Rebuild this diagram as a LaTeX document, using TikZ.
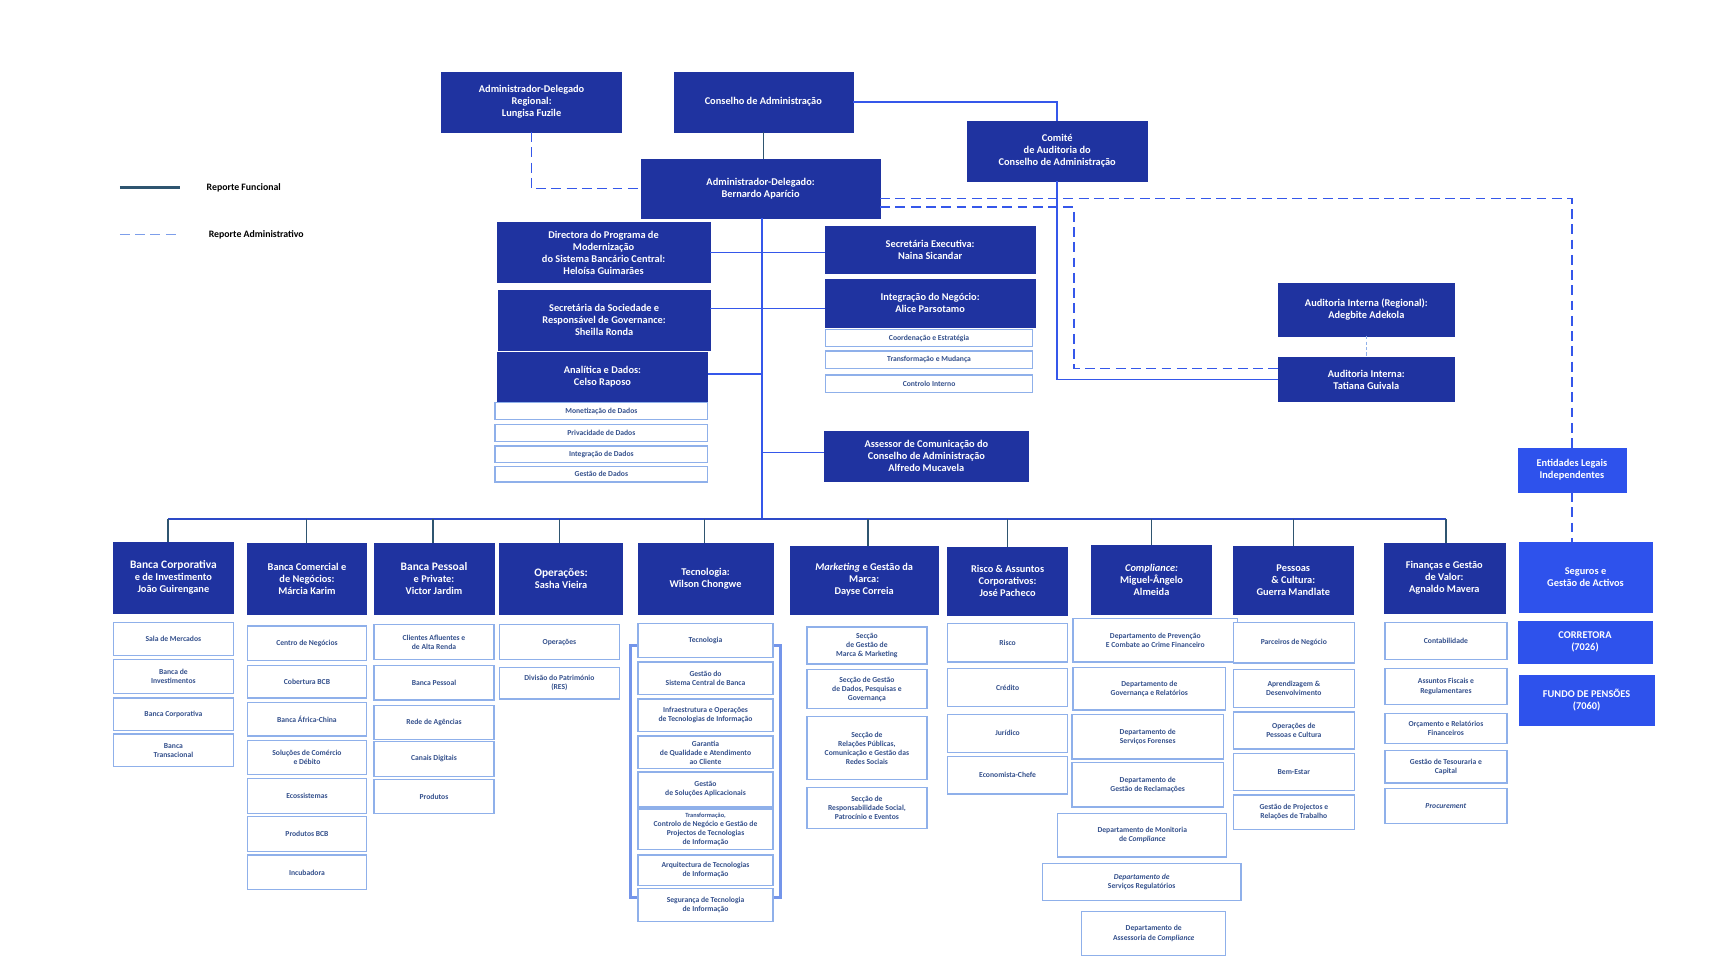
\documentclass[tikz,border=0pt]{standalone}
\usepackage{fontspec}
\setmainfont{Carlito}
\begin{document}
\definecolor{dk}{HTML}{1F33A0}
\definecolor{br}{HTML}{2E52EC}
\definecolor{ln}{HTML}{3557EA}
\definecolor{sb}{HTML}{8FB0EA}
\definecolor{st}{HTML}{34508C}
\definecolor{fn}{HTML}{2F5570}
\newcommand\bx[7]{\node[#1,minimum width={#5-#3},minimum height={#6-#4}] (#2) at ({(#3+#5)/2},{(#4+#6)/2}) {#7};}
\begin{tikzpicture}[x=1pt,y=-1pt,
 main/.style={draw=dk,fill=dk,text=white,align=center,inner sep=1pt,font=\bfseries\fontsize{9.5}{11}\selectfont},
 bright/.style={main,draw=br,fill=br},
 sub/.style={draw=sb,line width=1.2pt,fill=white,text=st,align=center,inner sep=0.5pt,font=\bfseries\fontsize{7}{8.3}\selectfont},
 fun/.style={draw=ln,line width=1.4pt},
 adm/.style={draw=ln,line width=1.4pt,dash pattern=on 9pt off 5pt}]
\useasboundingbox (0,0) rectangle (1570,880);
% legend
\coordinate (l1a) at (110,172); \coordinate (l1b) at (165,172);
\draw[fn,line width=2.5pt] (l1a) -- (l1b);
\node[anchor=west,font=\bfseries\fontsize{9}{10}\selectfont] (lg1) at (186,172) {Reporte Funcional};
\coordinate (l2a) at (110,215); \coordinate (l2b) at (165,215);
\draw[adm,draw=sb!80!ln] (l2a) -- (l2b);
\node[anchor=west,font=\bfseries\fontsize{9}{10}\selectfont] (lg2) at (188,215) {Reporte Administrativo};
% top
\bx{main}{reg}{405}{66}{570}{121}{Administrador-Delegado\\Regional:\\Lungisa Fuzile}
\bx{main}{cons}{618}{66}{782}{121}{Conselho de Administração}
\bx{main}{comite}{887}{111}{1052}{166}{Comité\\de Auditoria do\\Conselho de Administração}
\bx{main}{adm}{588}{146}{807}{200}{Administrador-Delegado:\\Bernardo Aparício}
\bx{main}{dir}{456}{204}{651}{259}{Directora do Programa de\\Modernização\\do Sistema Bancário Central:\\Heloísa Guimarães}
\bx{main}{socd}{457}{266}{651}{321}{Secretária da Sociedade e\\Responsável de Governance:\\Sheilla Ronda}
\bx{main}{anal}{456}{323}{649}{368}{Analítica e Dados:\\Celso Raposo}
\bx{sub}{a1}{454}{369}{649}{385}{Monetização de Dados}
\bx{sub}{a2}{454}{389}{649}{405}{Privacidade de Dados}
\bx{sub}{a3}{454}{409}{649}{424}{Integração de Dados}
\bx{sub}{a4}{454}{428}{649}{442}{Gestão de Dados}
\bx{main}{secx}{757}{207}{949}{251}{Secretária Executiva:\\Naina Sicandar}
\bx{main}{integ}{757}{256}{949}{300}{Integração do Negócio:\\Alice Parsotamo}
\bx{sub}{i1}{757}{302}{947}{318}{Coordenação e Estratégia}
\bx{sub}{i2}{757}{322}{947}{338}{Transformação e Mudança}
\bx{sub}{i3}{757}{344}{947}{360}{Controlo Interno}
\bx{main}{asses}{756}{395}{943}{441}{Assessor de Comunicação do\\Conselho de Administração\\Alfredo Mucavela}
\bx{main}{audr}{1172}{260}{1334}{308}{Auditoria Interna (Regional):\\Adegbite Adekola}
\bx{main}{audi}{1172}{328}{1334}{368}{Auditoria Interna:\\Tatiana Guivala}
\bx{bright}{ent}{1392}{411}{1491}{451}{Entidades Legais\\Independentes}
% top connectors
\draw[fn,draw=fn] (cons.south) -- (cons.south |- adm.north);
\draw[fun] (cons.east) -| (comite.north);
\draw[fun] (comite.south) |- (audi.west);
\coordinate (a1c) at (985,190);
\draw[adm] (adm.east |- a1c) -| (985,338) -- (audi.west |- 0,338);
\draw[adm] (adm.east |- 0,182) -| (ent.north);
\draw[adm] (reg.south) |- (adm.west);
\draw[sb,line width=1pt,dash pattern=on 3pt off 2pt] (audr.south) -- (audi.north);
\coordinate (tr) at (699,476);
\draw[fun] (adm.south -| tr) -- (tr);
\draw[fun] (dir.east) -- (dir.east -| secx.west);
\draw[fun] (socd.east |- 0,283) -- (integ.west |- 0,283);
\draw[fun] (anal.east |- 0,343) -- (699,343);
\draw[fun] (asses.west |- 0,415) -- (699,415);
% departments
\bx{main}{d1}{104}{497}{214}{562}{\fontsize{10.5}{12.5}\selectfont Banca Corporativa\\e de Investimento\\João Guirengane}
\bx{main}{d2}{227}{498}{336}{563}{Banca Comercial e\\de Negócios:\\Márcia Karim}
\bx{main}{d3}{343}{498}{453}{563}{\fontsize{10.5}{12.5}\selectfont Banca Pessoal\\e Private:\\Victor Jardim}
\bx{main}{d4}{458}{498}{571}{563}{\fontsize{10.5}{12.5}\selectfont Operações:\\Sasha Vieira}
\bx{main}{d5}{585}{498}{709}{563}{Tecnologia:\\Wilson Chongwe}
\bx{main}{d6}{725}{501}{860}{563}{\textit{Marketing} e Gestão da\\Marca:\\Dayse Correia}
\bx{main}{d7}{869}{502}{979}{564}{Risco \& Assuntos\\Corporativos:\\José Pacheco}
\bx{main}{d8}{1001}{500}{1111}{563}{\textit{Compliance:}\\Miguel-Ângelo\\Almeida}
\bx{main}{d9}{1131}{501}{1241}{563}{Pessoas\\\& Cultura:\\Guerra Mandlate}
\bx{main}{d10}{1269}{498}{1380}{562}{Finanças e Gestão\\de Valor:\\Agnaldo Mavera}
\bx{bright}{seg}{1393}{497}{1515}{561}{Seguros e\\Gestão de Activos}
\bx{bright}{cor}{1392}{570}{1515}{608}{CORRETORA\\(7026)}
\bx{bright}{fun}{1393}{619}{1517}{665}{FUNDO DE PENSÕES\\(7060)}
\draw[adm] (ent.south) -- (seg.north -| ent.south);
\coordinate (busL) at (154,476); \coordinate (busR) at (1326,476);
\draw[fun,draw=ln!85!black] (busL) -- (busR);
\foreach \d/\x in {d1/154,d2/281,d3/397,d4/513,d5/646,d6/796,d7/924,d8/1056,d9/1186,d10/1326}
  \draw[fun,draw=fn] (\x,476) -- (\x,0 |- \d.north);
% col1
\bx{sub}{s11}{104}{571}{214}{601}{Sala de Mercados}
\bx{sub}{s12}{104}{605}{214}{636}{Banca de\\Investimentos}
\bx{sub}{s13}{104}{640}{214}{670}{Banca Corporativa}
\bx{sub}{s14}{104}{673}{214}{703}{Banca\\Transacional}
% col2
\bx{sub}{s21}{227}{574}{336}{606}{Centro de Negócios}
\bx{sub}{s22}{227}{610}{336}{640}{Cobertura BCB}
\bx{sub}{s23}{227}{644}{336}{675}{Banca África-China}
\bx{sub}{s24}{227}{679}{336}{710}{Soluções de Comércio\\e Débito}
\bx{sub}{s25}{227}{714}{336}{746}{Ecossistemas}
\bx{sub}{s26}{227}{749}{336}{781}{Produtos BCB}
\bx{sub}{s27}{227}{784}{336}{816}{Incubadora}
% col3
\bx{sub}{s31}{343}{573}{453}{605}{Clientes Afluentes e\\de Alta Renda}
\bx{sub}{s32}{343}{610}{453}{642}{Banca Pessoal}
\bx{sub}{s33}{343}{647}{453}{678}{Rede de Agências}
\bx{sub}{s34}{343}{680}{453}{712}{Canais Digitais}
\bx{sub}{s35}{343}{715}{453}{746}{Produtos}
% col4
\bx{sub}{s41}{458}{573}{568}{605}{Operações}
\bx{sub}{s42}{458}{612}{568}{641}{Divisão do Património\\(RES)}
% col5 bracket
\coordinate (b1) at (578,592); \coordinate (b2) at (578,823);
\coordinate (b3) at (716,592); \coordinate (b4) at (716,823);
\draw[sb!70!ln,line width=3pt] (585,592) -- (b1) -- (b2) -- (585,823);
\draw[sb!70!ln,line width=3pt] (709,592) -- (b3) -- (b4) -- (709,823);
\bx{sub}{s51}{585}{572}{709}{603}{Tecnologia}
\bx{sub}{s52}{585}{607}{709}{637}{Gestão do\\Sistema Central de Banca}
\bx{sub}{s53}{585}{641}{709}{671}{Infraestrutura e Operações\\de Tecnologias de Informação}
\bx{sub}{s54}{585}{675}{709}{705}{Garantia\\de Qualidade e Atendimento\\ao Cliente}
\bx{sub}{s55}{585}{708}{709}{740}{Gestão\\de Soluções Aplicacionais}
\bx{sub}{s56}{585}{742}{709}{779}{\fontsize{5.8}{7}\selectfont Transformação,\\Controlo de Negócio e Gestão de\\Projectos de Tecnologias\\de Informação}
\bx{sub}{s57}{585}{784}{709}{812}{Arquitectura de Tecnologias\\de Informação}
\bx{sub}{s58}{585}{815}{709}{845}{Segurança de Tecnologia\\de Informação}
% col6
\bx{sub}{s61}{740}{575}{850}{609}{Secção\\de Gestão de\\Marca \& Marketing}
\bx{sub}{s62}{740}{614}{850}{650}{Secção de Gestão\\de Dados, Pesquisas e\\Governança}
\bx{sub}{s63}{740}{657}{850}{715}{Secção de\\Relações Públicas,\\Comunicação e Gestão das\\Redes Sociais}
\bx{sub}{s64}{740}{722}{850}{760}{Secção de\\Responsabilidade Social,\\Patrocínio e Eventos}
% col7
\bx{sub}{s71}{869}{572}{979}{607}{Risco}
\bx{sub}{s72}{869}{613}{979}{648}{Crédito}
\bx{sub}{s73}{869}{655}{979}{690}{Jurídico}
\bx{sub}{s74}{869}{694}{979}{728}{Economista-Chefe}
% col8
\bx{sub}{s81}{984}{567}{1135}{607}{Departamento de Prevenção\\E Combate ao Crime Financeiro}
\bx{sub}{s82}{984}{612}{1124}{651}{Departamento de\\Governança e Relatórios}
\bx{sub}{s83}{983}{655}{1122}{696}{Departamento de\\Serviços Forenses}
\bx{sub}{s84}{983}{699}{1122}{740}{Departamento de\\Gestão de Reclamações}
\bx{sub}{s85}{970}{746}{1125}{786}{Departamento de Monitoria\\de \textit{Compliance}}
\bx{sub}{s86}{956}{792}{1138}{826}{\textit{Departamento de}\\Serviços Regulatórios}
\bx{sub}{s87}{992}{836}{1124}{876}{Departamento de\\Assessoria de \textit{Compliance}}
% col9
\bx{sub}{s91}{1131}{571}{1242}{608}{Parceiros de Negócio}
\bx{sub}{s92}{1131}{614}{1242}{649}{Aprendizagem \&\\Desenvolvimento}
\bx{sub}{s93}{1131}{653}{1242}{687}{Operações de\\Pessoas e Cultura}
\bx{sub}{s94}{1131}{691}{1242}{725}{Bem-Estar}
\bx{sub}{s95}{1131}{729}{1242}{761}{Gestão de Projectos e\\Relações de Trabalho}
% col10
\bx{sub}{s101}{1270}{571}{1382}{605}{Contabilidade}
\bx{sub}{s102}{1270}{613}{1382}{646}{Assuntos Fiscais e\\Regulamentares}
\bx{sub}{s103}{1270}{654}{1382}{682}{Orçamento e Relatórios\\Financeiros}
\bx{sub}{s104}{1270}{688}{1382}{718}{Gestão de Tesouraria e\\Capital}
\bx{sub}{s105}{1270}{723}{1382}{755}{\textit{Procurement}}
\end{tikzpicture}
\end{document}
